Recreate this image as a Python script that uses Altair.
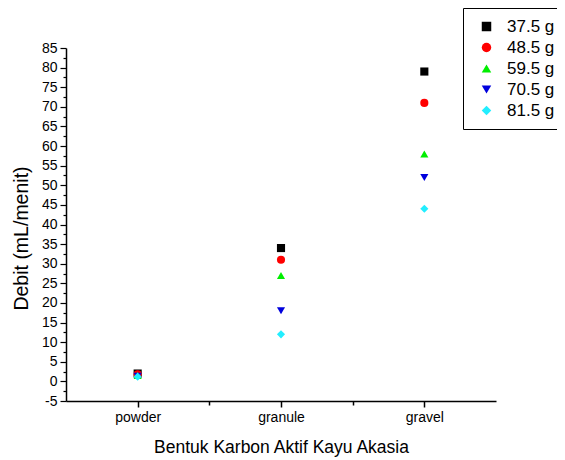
import altair as alt
import pandas as pd

categories = ["powder", "granule", "gravel"]
series = ["37.5 g", "48.5 g", "59.5 g", "70.5 g", "81.5 g"]
values = {
    "37.5 g": [2.0, 34, 79],
    "48.5 g": [1.8, 31, 71],
    "59.5 g": [1.5, 27, 58],
    "70.5 g": [1.3, 18, 52],
    "81.5 g": [1.2, 12, 44],
}
colors = ["#000000", "#ff0000", "#00ee00", "#0000dd", "#22eeff"]
shapes = ["square", "circle", "triangle-up", "triangle-down", "diamond"]
y_ticks = [-5 + 2.5 * i for i in range(37)]
x_ticks = [1, 1.5, 2, 2.5, 3]

rows = []
for s in series:
    for i, c in enumerate(categories):
        rows.append({"idx": i + 1, "cat": c, "series": s, "value": values[s][i]})
df = pd.DataFrame(rows)

label_expr = " : ".join(
    [f"datum.value == {i + 1} ? '{c}'" for i, c in enumerate(categories)]
) + " : ''"

font = "Liberation Sans"

chart = alt.Chart(df).mark_point(filled=True, opacity=1, size=66).encode(
    x=alt.X(
        "idx:Q",
        scale=alt.Scale(domain=[0.5, 3.5], nice=False, zero=False),
        axis=alt.Axis(
            title="Bentuk Karbon Aktif Kayu Akasia",
            values=x_ticks,
            labelExpr=label_expr,
            grid=False,
            domainColor="black",
            tickColor="black",
            tickWidth=1.5,
            domainWidth=1.5,
            tickSize={"condition": {"test": "datum.value % 1 === 0", "value": 6}, "value": 4},
            labelFontSize=14,
            labelColor="black",
            labelFont=font,
            labelPadding=3,
            titleFont=font,
            titleFontSize=17.5,
            titleFontWeight="normal",
            titleColor="black",
            titlePadding=14,
        ),
    ),
    y=alt.Y(
        "value:Q",
        scale=alt.Scale(domain=[-5, 85], nice=False, zero=False),
        axis=alt.Axis(
            title="Debit (mL/menit)",
            values=y_ticks,
            labelExpr="datum.value % 5 === 0 ? datum.value : ''",
            grid=False,
            domainColor="black",
            tickColor="black",
            tickWidth=1.2,
            domainWidth=1.5,
            tickSize={"condition": {"test": "datum.value % 5 === 0", "value": 6}, "value": 3},
            labelFontSize=14,
            labelColor="black",
            labelFont=font,
            labelPadding=3,
            titleFont=font,
            titleFontSize=19.5,
            titleFontWeight="normal",
            titleColor="black",
            titleX=-39,
            titleY=190,
            titleBaseline="alphabetic",
            titleAngle=270,
        ),
    ),
    color=alt.Color(
        "series:N",
        scale=alt.Scale(domain=series, range=colors),
        legend=alt.Legend(
            title=None,
            orient="none",
            legendX=397,
            legendY=-40,
            strokeColor="black",
            fillColor="white",
            padding=10,
            symbolOffset=5,
            labelFont=font,
            labelFontSize=17,
            labelColor="black",
            labelOffset=12,
            rowPadding=3,
            symbolSize=90,
            symbolOpacity=1,
            symbolStrokeWidth=0,
        ),
    ),
    shape=alt.Shape(
        "series:N",
        scale=alt.Scale(domain=series, range=shapes),
    ),
).properties(
    width=430,
    height=353,
    autosize=alt.AutoSizeParams(type="none"),
    padding={"left": 58, "top": 40, "right": 61, "bottom": 58},
).configure_view(stroke=None)

chart.save("out.html", embed_options={"renderer": "svg", "actions": False})
